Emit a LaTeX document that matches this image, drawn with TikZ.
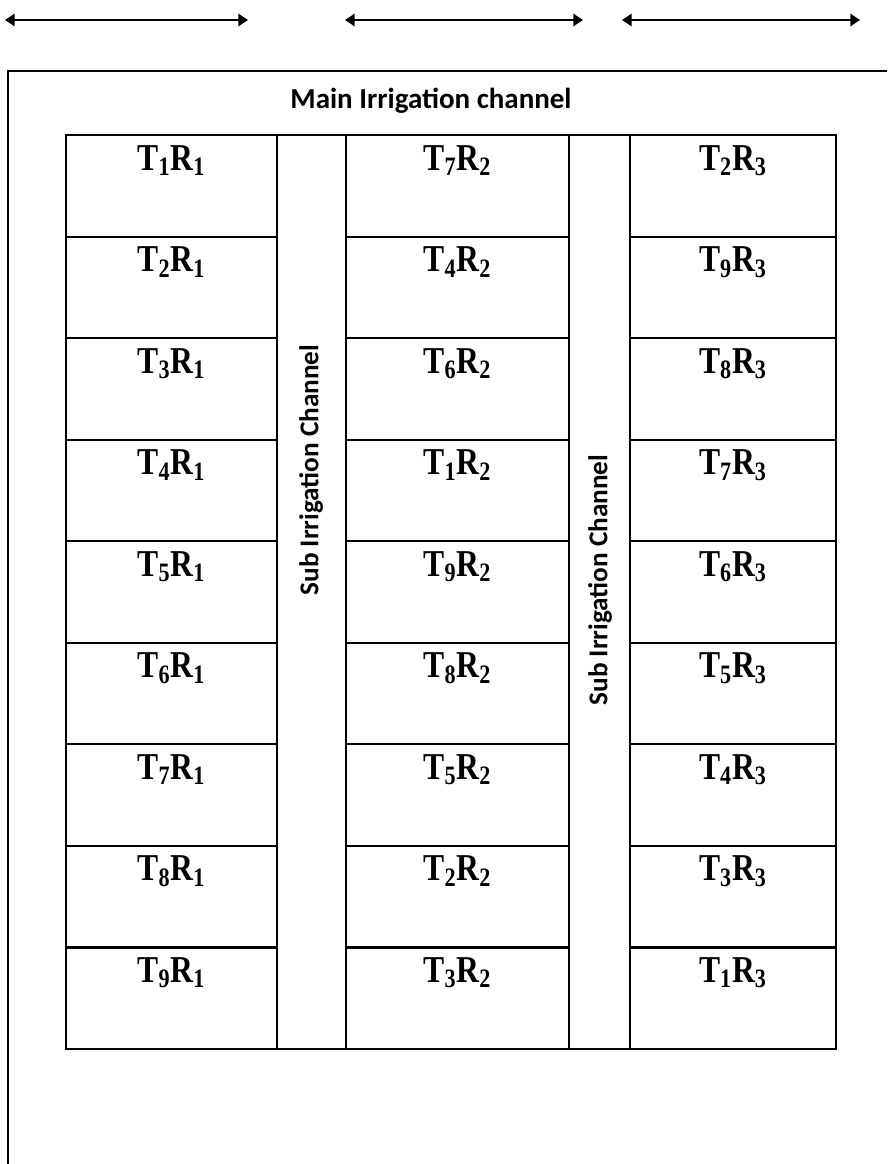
\documentclass[tikz,border=0pt]{standalone}
\usepackage{fontspec}
\setmainfont{Liberation Serif}
\newfontfamily\calfont{Carlito}
\usetikzlibrary{arrows.meta,positioning,calc}
\newcommand{\plotname}[2]{\scalebox{1}[1.2]{T\textsubscript{#1}R\textsubscript{#2}}}

\begin{document}
\begin{tikzpicture}[
  x=0.02cm, y=-0.02cm,
  >={Triangle[length=5.5pt,width=7pt]},
  line width=1.2pt,
  every node/.style={align=center},
  cellA/.style   = {draw, inner sep=0pt, anchor=north, minimum width=4.22cm, minimum height=2.031cm},
  cellB/.style   = {cellA, minimum width=4.46cm},
  cellC/.style   = {cellA, minimum width=4.12cm},
  chan/.style    = {draw, inner sep=0pt, anchor=north, minimum height=18.28cm},
  plotlbl/.style = {anchor=base, inner sep=0pt, font=\fontsize{18}{20}\selectfont\bfseries},
  chanlbl/.style = {rotate=90, inner sep=0pt, font=\calfont\fontsize{15.5}{18}\selectfont\bfseries},
  ttl/.style     = {inner sep=0pt, font=\calfont\fontsize{16.5}{19}\selectfont\bfseries}
]
\useasboundingbox (0,0) rectangle (887,1164);

% flow arrows on top
\coordinate (a1w) at (5,20);   \coordinate (a1e) at (248,20);
\coordinate (a2w) at (345,20); \coordinate (a2e) at (583,20);
\coordinate (a3w) at (622,20); \coordinate (a3e) at (860,20);
\draw[<->] (a1w) -- (a1e);
\draw[<->] (a2w) -- (a2e);
\draw[<->] (a3w) -- (a3e);

% field border (open at right and bottom)
\draw (8,1164) -- (8,71) -- (887,71);
\node[ttl] (main) at (431,101) {Main Irrigation channel};

% sub channels
\node[chan, minimum width=1.38cm] (ch1) at (311.5,134) {};
\node[chan, minimum width=1.22cm] (ch2) at (599.5,134) {};
\node[chanlbl] at (311,470) {Sub Irrigation Channel};
\node[chanlbl] at (600,580) {Sub Irrigation Channel};

% plots, replication 1
\foreach \t [count=\r] in {1,2,3,4,5,6,7,8,9} {
  \node[cellA] (a\r) at (171.5,{134+(\r-1)*101.56}) {};
  \node[plotlbl] at ($(a\r.north)+(0,36)$) {\plotname{\t}{1}};
}
% plots, replication 2
\foreach \t [count=\r] in {7,4,6,1,9,8,5,2,3} {
  \node[cellB] (b\r) at (457.5,{134+(\r-1)*101.56}) {};
  \node[plotlbl] at ($(b\r.north)+(0,36)$) {\plotname{\t}{2}};
}
% plots, replication 3
\foreach \t [count=\r] in {2,9,8,7,6,5,4,3,1} {
  \node[cellC] (c\r) at (733,{134+(\r-1)*101.56}) {};
  \node[plotlbl] at ($(c\r.north)+(0,36)$) {\plotname{\t}{3}};
}
\end{tikzpicture}
\end{document}
